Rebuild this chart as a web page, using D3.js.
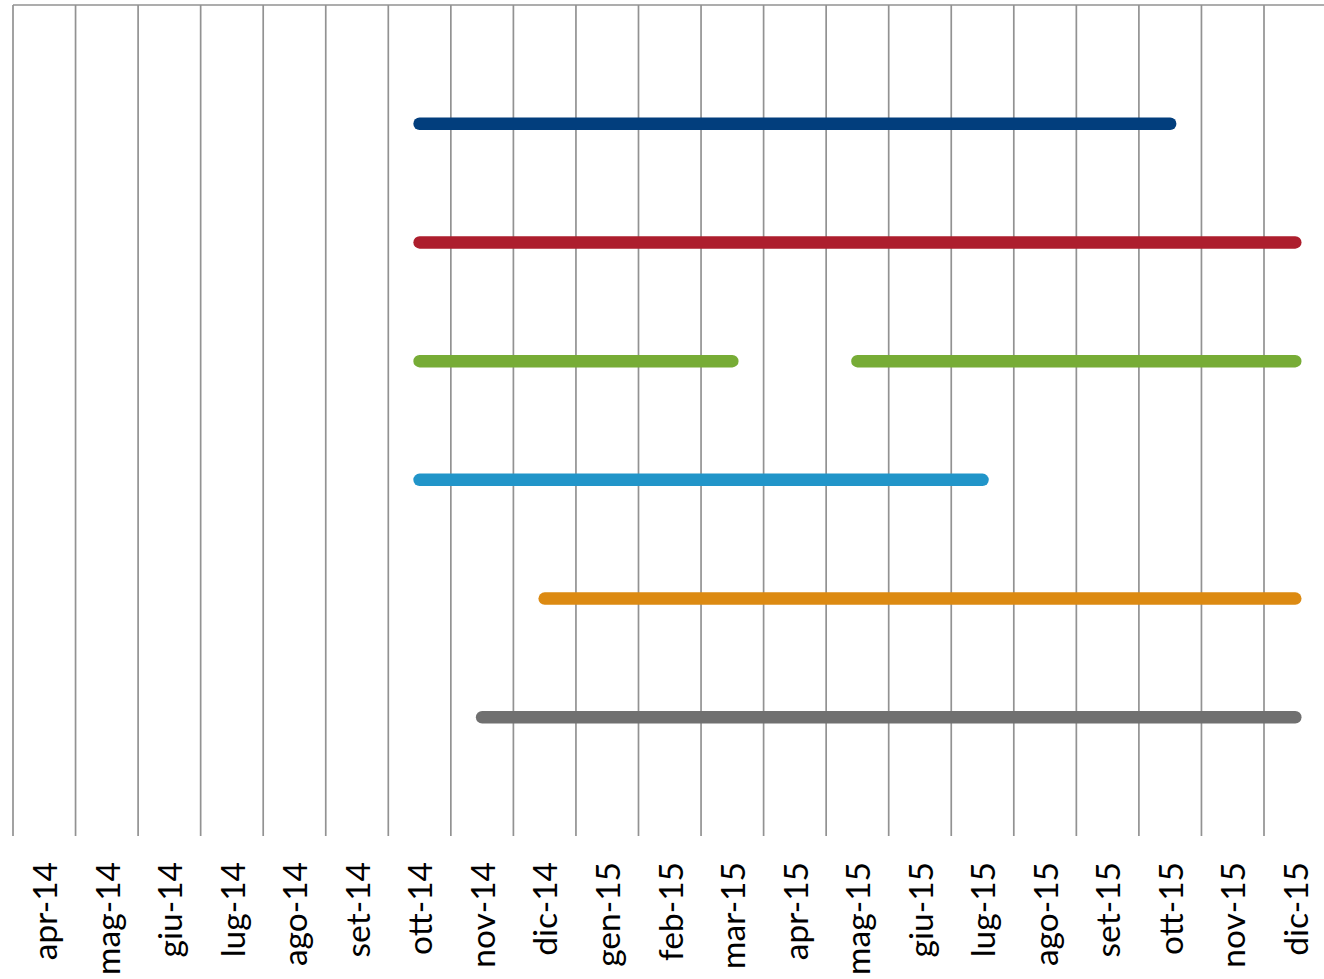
<!DOCTYPE html>
<html>
<head>
<meta charset="utf-8">
<script src="https://cdn.jsdelivr.net/npm/d3@7"></script>
<style>
  html, body { margin: 0; padding: 0; background: #fff; }
  svg { display: block; }
</style>
</head>
<body>
<svg id="chart" width="1324" height="979"></svg>
<script>
const months = ["apr-14","mag-14","giu-14","lug-14","ago-14","set-14","ott-14","nov-14","dic-14","gen-15","feb-15","mar-15","apr-15","mag-15","giu-15","lug-15","ago-15","set-15","ott-15","nov-15","dic-15"];
const N = null;
const seriesNavy   = [N,N,N,N,N,N,6,6,6,6,6,6,6,6,6,6,6,6,6,N,N];
const seriesRed    = [N,N,N,N,N,N,5,5,5,5,5,5,5,5,5,5,5,5,5,5,5];
const seriesGreen  = [N,N,N,N,N,N,4,4,4,4,4,4,N,4,4,4,4,4,4,4,4];
const seriesBlue   = [N,N,N,N,N,N,3,3,3,3,3,3,3,3,3,3,N,N,N,N,N];
const seriesOrange = [N,N,N,N,N,N,N,N,2,2,2,2,2,2,2,2,2,2,2,2,2];
const seriesGray   = [N,N,N,N,N,N,N,1,1,1,1,1,1,1,1,1,1,1,1,1,1];
const colors = ["#023e7d","#ad1e2d","#77ac36","#2195c9","#dc8a12","#707070"];
const allSeries = [seriesNavy, seriesRed, seriesGreen, seriesBlue, seriesOrange, seriesGray];

(function () {
const svg = d3.select("#chart");
const plotLeft = 13, plotTop = 5, plotBottom = 836;
const band = 62.55;
const plotRight = plotLeft + band * months.length;

const x = d3.scaleBand().domain(months).range([plotLeft, plotRight]).paddingInner(0).paddingOuter(0);
const y = d3.scaleLinear().domain([0, 7]).range([plotBottom, plotTop]);

// vertical gridlines at category boundaries
const bounds = months.map(m => x(m));
svg.append("g").selectAll("line").data(bounds).join("line")
  .attr("x1", d => d).attr("x2", d => d)
  .attr("y1", plotTop).attr("y2", plotBottom)
  .attr("stroke", "#929292").attr("stroke-width", 1.7);

// top border
svg.append("line")
  .attr("x1", plotLeft).attr("x2", plotRight)
  .attr("y1", plotTop).attr("y2", plotTop)
  .attr("stroke", "#929292").attr("stroke-width", 1.7);

// x axis labels
const axis = d3.axisBottom(x).tickSize(0).tickPadding(0);
const ag = svg.append("g").attr("transform", `translate(0,${plotBottom})`).call(axis);
ag.select(".domain").remove();
ag.selectAll("text")
  .attr("font-family", "Lato, sans-serif")
  .attr("font-size", 33.5)
  .attr("fill", "#000")
  .attr("text-anchor", "end")
  .attr("dy", "0.38em")
  .attr("transform", "translate(0,26) rotate(-90)")
  .attr("x", 0).attr("y", 0);

// series lines
const line = d3.line()
  .defined(d => d.v !== null)
  .x(d => x(d.m) + x.bandwidth() / 2)
  .y(d => y(d.v));

allSeries.forEach((s, i) => {
  const pts = months.map((m, j) => ({m, v: s[j]}));
  svg.append("path")
    .attr("d", line(pts))
    .attr("fill", "none")
    .attr("stroke", colors[i])
    .attr("stroke-width", 12.5)
    .attr("stroke-linecap", "round")
    .attr("stroke-linejoin", "round");
});
})();
</script>
</body>
</html>
